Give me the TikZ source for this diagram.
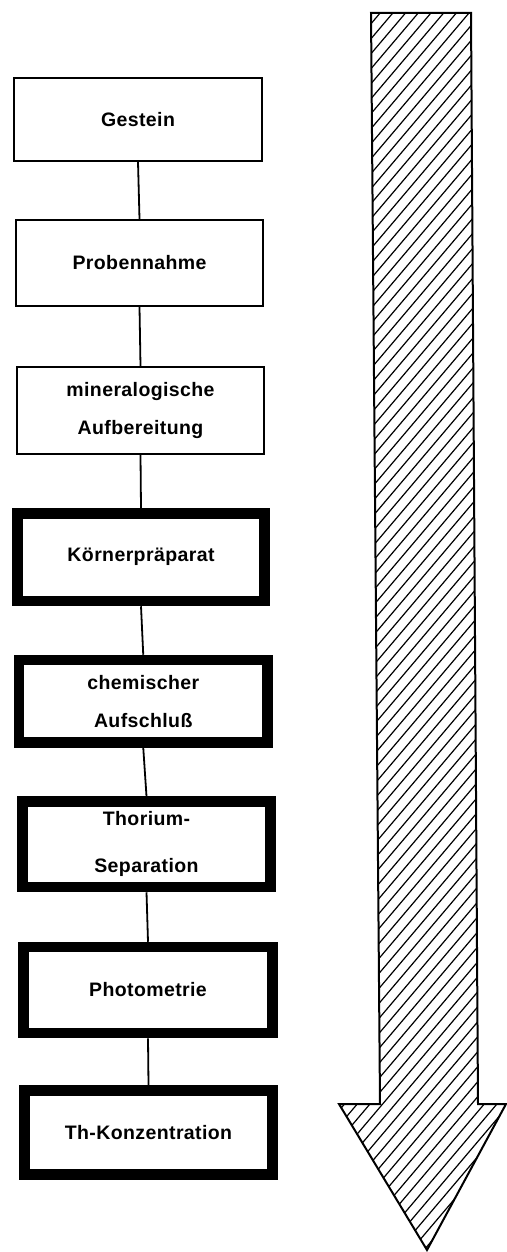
\documentclass[tikz,border=0pt]{standalone}
\usepackage{fontspec}
\newfontfamily\boxfont{Liberation Sans}[LetterSpace=2]
\begin{document}
\begin{tikzpicture}[x=1pt,y=-1pt,
  thinbox/.style={draw=black,line width=2pt,inner sep=0pt,align=center,
    font=\boxfont\bfseries\fontsize{19.5}{38}\selectfont},
  thickbox/.style={thinbox,line width=10.5pt},
  link/.style={draw=black,line width=1.8pt},
  hatch/.style={draw=black,line width=1.2pt},
  outline/.style={draw=black,line width=2pt,line join=miter}]
\useasboundingbox (0,0) rectangle (506,1252);
% boxes
\node[thinbox,minimum width=248pt,minimum height=83pt] (b1) at (138,119.5) {Gestein};
\node[thinbox,minimum width=247pt,minimum height=86pt] (b2) at (139.5,263) {Probennahme};
\node[thinbox,minimum width=247pt,minimum height=87pt] (b3) at (140.5,410.5) {mineralogische\\Aufbereitung};
\node[thickbox,minimum width=247pt,minimum height=87.5pt] (b4) at (141,557.25) {Körnerpräparat};
\node[thickbox,minimum width=248.5pt,minimum height=82.5pt] (b5) at (143.25,701.25) {chemischer\\Aufschluß};
\node[thickbox,minimum width=248pt,minimum height=85.5pt] (b6) at (146.5,844.25) {Thorium-\\[9pt]Separation};
\node[thickbox,minimum width=249pt,minimum height=86pt] (b7) at (148,990) {Photometrie};
\node[thickbox,minimum width=248pt,minimum height=84pt] (b8) at (148.5,1132.5) {Th-Konzentration};
% connectors
\draw[link] (b1.south) -- (b2.north);
\draw[link] (b2.south) -- (b3.north);
\draw[link] (b3.south) -- (b4.north);
\draw[link] (b4.south) -- (b5.north);
\draw[link] (b5.south) -- (b6.north);
\draw[link] (b6.south) -- (b7.north);
\draw[link] (b7.south) -- (b8.north);
% hatched arrow
\begin{scope}
  \clip (371,13) -- (471,13) -- (478,1104) -- (506,1104) -- (427,1250) -- (339,1104) -- (380,1104) -- cycle;
  \foreach \k in {24,...,130} {
    \draw[hatch] ({\k*12.7-1100},1265) -- ({\k*12.7},-33);
  }
\end{scope}
\draw[outline] (371,13) -- (471,13) -- (478,1104) -- (506,1104) -- (427,1250) -- (339,1104) -- (380,1104) -- cycle;
\end{tikzpicture}
\end{document}
